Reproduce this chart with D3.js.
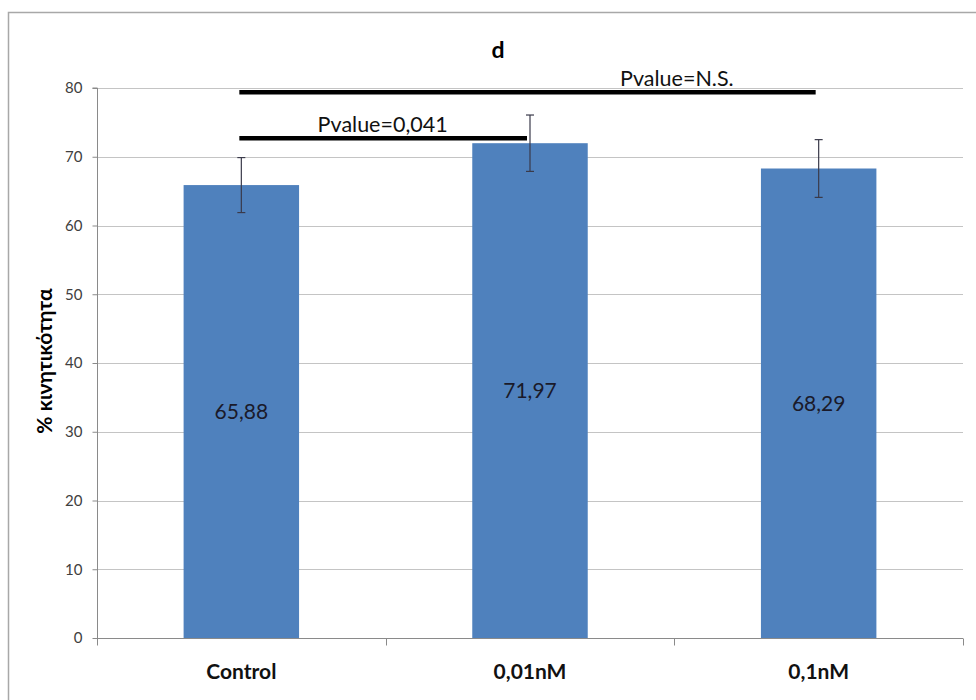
<!DOCTYPE html>
<html>
<head>
<meta charset="utf-8">
<script src="https://cdn.jsdelivr.net/npm/d3@7"></script>
<style>
  html, body { margin: 0; padding: 0; background: #fff; }
  svg { display: block; }
</style>
</head>
<body>
<svg id="chart" width="976" height="700"></svg>
<script>
// ---- data ----
const categories = ["Control", "0,01nM", "0,1nM"];
const values = [65.88, 71.97, 68.29];
const valueLabels = ["65,88", "71,97", "68,29"];
const errors = [4.0, 4.1, 4.2];
const yTicks = [0, 10, 20, 30, 40, 50, 60, 70, 80];
const comparisons = [
  { from: "Control", to: "0,01nM", level: 72.7, label: "Pvalue=0,041" },
  { from: "Control", to: "0,1nM", level: 79.4, label: "Pvalue=N.S." }
];
const chartTitle = "d";
const yTitle = "% κινητικότητα";

// ---- layout ----
const font = "Lato, 'Open Sans', sans-serif";
const svg = d3.select("#chart");
const pLeft = 97, pRight = 963, pTop = 88, pBottom = 638;

const x = d3.scaleBand().domain(categories).range([pLeft, pRight]).padding(0);
const barW = x.bandwidth() / 2.5;
const y = d3.scaleLinear().domain([0, 80]).range([pBottom, pTop]);

// outer border
svg.append("rect")
  .attr("x", 8.5).attr("y", 12.5)
  .attr("width", 980).attr("height", 700)
  .attr("fill", "none").attr("stroke", "#a8a8a8").attr("stroke-width", 1.5);

// gridlines
svg.append("g").selectAll("line").data(yTicks.filter(d => d > 0)).join("line")
  .attr("x1", pLeft).attr("x2", pRight)
  .attr("y1", d => Math.round(y(d)) + 0.5).attr("y2", d => Math.round(y(d)) + 0.5)
  .attr("stroke", "#c4c4c4").attr("stroke-width", 1);

// y axis
const yAxis = d3.axisLeft(y).tickValues(yTicks).tickSize(5).tickPadding(10);
const gy = svg.append("g").attr("transform", `translate(${pLeft + 0.5},0)`).call(yAxis);
gy.select(".domain").attr("stroke", "#8a8a8a").attr("d", `M-5,${pTop}H0V${pBottom}`);
gy.selectAll(".tick line").attr("stroke", "#8a8a8a");
gy.selectAll(".tick text").attr("font-family", font).attr("font-size", 15).attr("fill", "#404040");

// bars
svg.append("g").selectAll("rect").data(categories).join("rect")
  .attr("x", d => x(d) + x.bandwidth() / 2 - barW / 2)
  .attr("width", barW)
  .attr("y", (d, i) => y(values[i]))
  .attr("height", (d, i) => y(0) - y(values[i]))
  .attr("fill", "#4f81bd");

// x axis
const xAxis = d3.axisBottom(x).tickSize(0).tickFormat("");
const gx = svg.append("g").attr("transform", `translate(0,${pBottom + 0.5})`).call(xAxis);
gx.select(".domain").attr("stroke", "#8a8a8a").attr("d", `M${pLeft},0H${pRight}`);
const bounds = [pLeft, ...categories.map(c => x(c) + x.bandwidth())];
gx.selectAll(".sep").data(bounds).join("line").attr("class", "sep")
  .attr("x1", d => Math.round(d) + 0.5).attr("x2", d => Math.round(d) + 0.5)
  .attr("y1", 0).attr("y2", 7).attr("stroke", "#8a8a8a");

// category labels
svg.append("g").selectAll("text").data(categories).join("text")
  .attr("x", d => x(d) + x.bandwidth() / 2)
  .attr("y", 679)
  .attr("text-anchor", "middle")
  .attr("font-family", font).attr("font-weight", "bold").attr("font-size", 21)
  .attr("fill", "#111")
  .text(d => d);

// error bars
const eg = svg.append("g").selectAll("g").data(categories).join("g");
eg.append("line")
  .attr("x1", d => x(d) + x.bandwidth() / 2).attr("x2", d => x(d) + x.bandwidth() / 2)
  .attr("y1", (d, i) => y(values[i] + errors[i])).attr("y2", (d, i) => y(values[i] - errors[i]))
  .attr("stroke", "#3a3a4a").attr("stroke-width", 1.2);
eg.selectAll("line.cap").data((d, i) => [
    { c: d, v: values[i] + errors[i] }, { c: d, v: values[i] - errors[i] }])
  .join("line").attr("class", "cap")
  .attr("x1", d => x(d.c) + x.bandwidth() / 2 - 4).attr("x2", d => x(d.c) + x.bandwidth() / 2 + 4)
  .attr("y1", d => y(d.v)).attr("y2", d => y(d.v))
  .attr("stroke", "#3a3a4a").attr("stroke-width", 1.2);

// value labels
svg.append("g").selectAll("text").data(categories).join("text")
  .attr("x", d => x(d) + x.bandwidth() / 2)
  .attr("y", (d, i) => (y(values[i]) + y(0)) / 2)
  .attr("dy", "0.35em")
  .attr("text-anchor", "middle")
  .attr("font-family", font).attr("font-size", 21)
  .attr("fill", "#1a1a2a")
  .text((d, i) => valueLabels[i]);

// significance lines
const cx = c => x(c) + x.bandwidth() / 2;
svg.append("g").selectAll("line").data(comparisons).join("line")
  .attr("x1", d => cx(d.from) - 2).attr("x2", d => cx(d.to) - 3)
  .attr("y1", d => y(d.level)).attr("y2", d => y(d.level))
  .attr("stroke", "#000").attr("stroke-width", 4.5);
svg.append("text")
  .attr("x", (cx(comparisons[0].from) + cx(comparisons[0].to)) / 2 - 3)
  .attr("y", y(comparisons[0].level) - 6)
  .attr("text-anchor", "middle")
  .attr("font-family", font).attr("font-size", 21.5).attr("fill", "#111")
  .text(comparisons[0].label);
svg.append("text")
  .attr("x", cx(comparisons[1].to) - 85)
  .attr("y", y(comparisons[1].level) - 6)
  .attr("text-anchor", "end")
  .attr("font-family", font).attr("font-size", 21.5).attr("fill", "#111")
  .text(comparisons[1].label);

// title
svg.append("text")
  .attr("x", 498).attr("y", 58)
  .attr("text-anchor", "middle")
  .attr("font-family", font).attr("font-weight", "bold").attr("font-size", 23)
  .attr("fill", "#000")
  .text(chartTitle);

// y title
svg.append("text")
  .attr("transform", "translate(52,361) rotate(-90)")
  .attr("text-anchor", "middle")
  .attr("font-family", font).attr("font-weight", "bold").attr("font-size", 21)
  .attr("fill", "#000")
  .text(yTitle);
</script>
</body>
</html>
